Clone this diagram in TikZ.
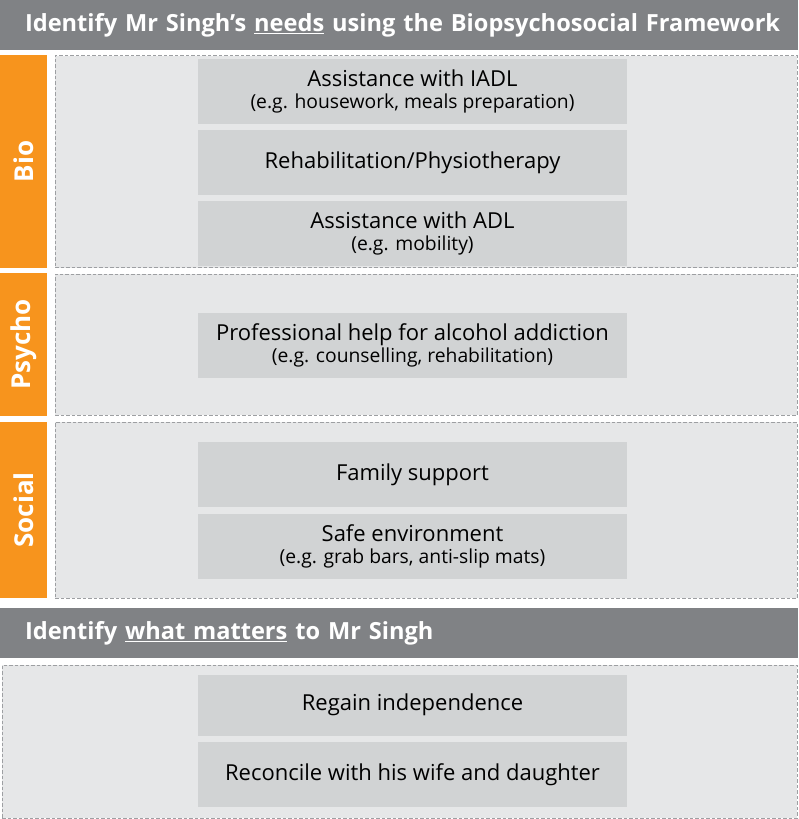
\documentclass[tikz,border=0pt]{standalone}
\usepackage{fontspec}
\setmainfont{Open Sans}
\definecolor{hdrgray}{HTML}{808285}
\definecolor{barorange}{HTML}{F7941D}
\definecolor{panelfill}{HTML}{E6E7E8}
\definecolor{itemfill}{HTML}{D1D3D4}
\definecolor{dashgray}{HTML}{9D9FA2}

\begin{document}
\begin{tikzpicture}[
  x=1pt, y=-1pt,
  hdr/.style={fill=hdrgray, minimum width=798pt, minimum height=50pt,
              text width=748pt, align=left, text=white, inner sep=0pt,
              font=\bfseries\fontsize{23.6}{28}\selectfont},
  side/.style={fill=barorange, minimum width=47pt, inner sep=0pt,
               text=white, font=\bfseries\fontsize{26}{30}\selectfont},
  panel/.style={fill=panelfill, draw=dashgray, line width=0.9pt,
                dash pattern=on 3.5pt off 2pt, inner sep=0pt},
  item/.style={fill=itemfill, minimum width=429pt, minimum height=65pt,
               align=center, inner sep=0pt, font=\fontsize{22}{25}\selectfont}
]
  \useasboundingbox (0,0) rectangle (798,819);
  \newcommand{\subline}[1]{{\fontsize{19.3}{22}\selectfont #1}}

  % ── Needs header ───────────────────────────────────────────────────────────
  \node[hdr] (needs) at (399,25)
      {\mbox{Identify Mr Singh’s \underline{needs} using the Biopsychosocial Framework}};

  % ── Side bars ──────────────────────────────────────────────────────────────
  \node[side, minimum height=213pt] (bio)    at (23.5,161.5)
      {\rotatebox{90}{Bio}};
  \node[side, minimum height=143pt] (psycho) at (23.5,344.5)
      {\rotatebox{90}{Psycho}};
  \node[side, minimum height=176pt] (social) at (23.5,510)
      {\rotatebox{90}{Social}};

  % ── Dashed panels ──────────────────────────────────────────────────────────
  \node[panel, minimum width=742pt, minimum height=212pt] (biop)    at (426,161.5) {};
  \node[panel, minimum width=742pt, minimum height=141pt] (psychop) at (426,344.5) {};
  \node[panel, minimum width=742pt, minimum height=176pt] (socialp) at (426,510)   {};

  % Bio
  \node[item] (iadl)  at (412.5,91)
      {Assistance with IADL\\[-3pt]\subline{(e.g. housework, meals preparation)}};
  \node[item] (rehab) at (412.5,162.5) {Rehabilitation/Physiotherapy};
  \node[item] (adl)   at (412.5,233.5)
      {Assistance with ADL\\[-3pt]\subline{(e.g. mobility)}};

  % Psycho
  \node[item] (alcohol) at (412.5,345)
      {Professional help for alcohol addiction\\[-3pt]\subline{(e.g. counselling, rehabilitation)}};

  % Social
  \node[item] (family) at (412.5,474.5) {Family support};
  \node[item] (safe)   at (412.5,546.5)
      {Safe environment\\[-3pt]\subline{(e.g. grab bars, anti-slip mats)}};

  % ── What matters ───────────────────────────────────────────────────────────
  \node[hdr] (matters) at (399,633)
      {\mbox{Identify \underline{what matters} to Mr Singh}};
  \node[panel, minimum width=795pt, minimum height=153pt] (mattersp) at (399.5,741.5) {};

  \node[item, minimum height=61pt] (indep)     at (412.5,705)   {Regain independence};
  \node[item]                      (reconcile) at (412.5,774.5) {Reconcile with his wife and daughter};

\end{tikzpicture}
\end{document}
